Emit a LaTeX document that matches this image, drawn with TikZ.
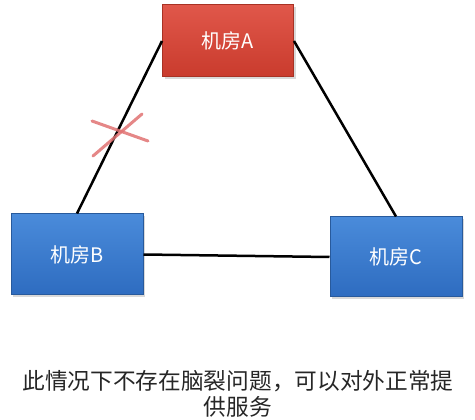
\documentclass[tikz,border=0pt]{standalone}
\usepackage{fontspec}
\newfontfamily\cjk{Noto Sans CJK SC}
\usetikzlibrary{shadows}
\definecolor{redtop}{HTML}{E0574A}
\definecolor{redbot}{HTML}{C93B2D}
\definecolor{redborder}{HTML}{A83224}
\definecolor{bluetop}{HTML}{4A8BDA}
\definecolor{bluebot}{HTML}{2E6CC0}
\definecolor{blueborder}{HTML}{285A9C}
\definecolor{crossred}{HTML}{E07272}
\definecolor{captiongray}{HTML}{262626}
\tikzset{
  room/.style={rectangle, line width=1pt, text=white,
    font=\cjk\fontsize{20}{23}\selectfont, inner sep=0pt,
    drop shadow={shadow xshift=2pt, shadow yshift=-2pt, opacity=0.3}},
  redroom/.style={room, draw=redborder, top color=redtop, bottom color=redbot},
  blueroom/.style={room, draw=blueborder, top color=bluetop, bottom color=bluebot},
  link/.style={line width=2.5pt, black},
  crossline/.style={line width=3pt, crossred, opacity=0.85, line cap=round},
}
\begin{document}
\begin{tikzpicture}[x=1pt,y=-1pt]
\useasboundingbox (0,0) rectangle (475,420);
\node[redroom, minimum width=131pt, minimum height=72pt] (A) at (228,41) {机房A};
\node[blueroom, minimum width=132pt, minimum height=81pt] (B) at (77,254.5) {机房B};
\node[blueroom, minimum width=132pt, minimum height=80pt] (C) at (396,257) {机房C};
\draw[link] (A.west) -- (B.north);
\draw[link] (A.east) -- (C.north);
\draw[link] (B.east) -- (C.west);
\coordinate (x1) at (92,121);
\coordinate (x2) at (148,141);
\coordinate (x3) at (93,156);
\coordinate (x4) at (142,114);
\draw[crossline] (x1) -- (x2);
\draw[crossline] (x3) -- (x4);
\node[font=\cjk\fontsize{22.7}{25.5}\selectfont, text=captiongray, align=center, inner sep=0pt] (cap) at (238,394) {此情况下不存在脑裂问题，可以对外正常提\\供服务};
\end{tikzpicture}
\end{document}
